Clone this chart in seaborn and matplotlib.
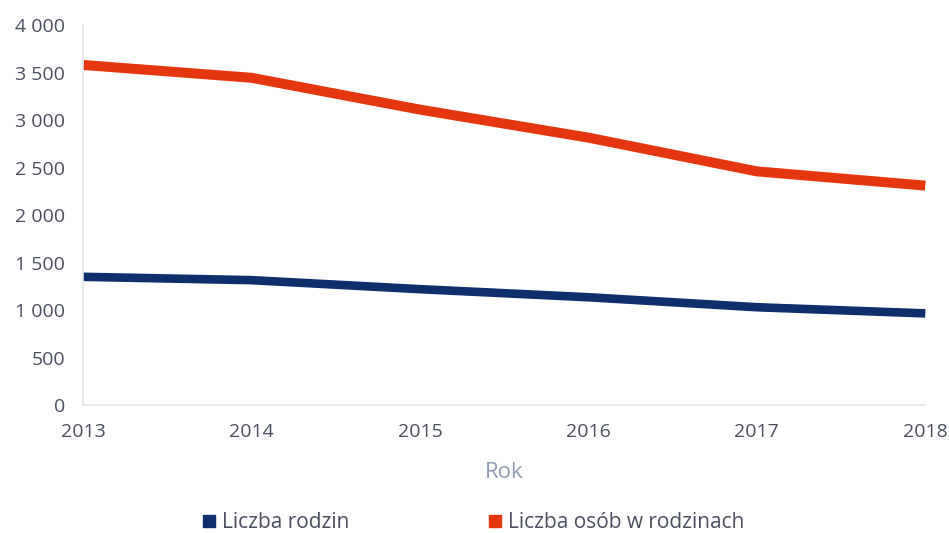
import matplotlib
matplotlib.use("Agg")
import matplotlib.pyplot as plt
import pandas as pd
import seaborn as sns
from matplotlib.lines import Line2D

years = [2013, 2014, 2015, 2016, 2017, 2018]
liczba_rodzin = [1350, 1315, 1220, 1135, 1030, 965]
liczba_osob = [3580, 3445, 3110, 2815, 2460, 2310]
series_names = ["Liczba rodzin", "Liczba osób w rodzinach"]
y_ticks = [0, 500, 1000, 1500, 2000, 2500, 3000, 3500, 4000]

COLORS = {"Liczba rodzin": "#0d2f6b", "Liczba osób w rodzinach": "#e5370f"}
TICK_COLOR = "#4a4f60"
AXIS_COLOR = "#e4e6ef"

df = pd.DataFrame({
    "Rok": years * 2,
    "value": liczba_rodzin + liczba_osob,
    "series": [series_names[0]] * len(years) + [series_names[1]] * len(years),
})

sns.set_style("white")
plt.rcParams["font.family"] = ["Open Sans", "DejaVu Sans"]

fig = plt.figure(figsize=(9.49, 5.33), dpi=100)
ax = fig.add_axes([0.0875, 0.24, 0.8875, 0.713])

sns.lineplot(
    data=df, x="Rok", y="value", hue="series", palette=COLORS,
    size="series", sizes={series_names[0]: 6.2, series_names[1]: 7.2},
    legend=False, ax=ax,
)
for line in ax.lines:
    line.set_clip_on(False)
    line.set_solid_capstyle("butt")

ax.set_xlim(2013, 2018)
ax.set_ylim(0, 4000)
ax.set_xticks(years)
ax.set_xticklabels([str(y) for y in years])
ax.set_yticks(y_ticks)
ax.set_yticklabels([f"{v:,}".replace(",", " ") for v in y_ticks])
ax.tick_params(axis="both", length=0, labelsize=14, colors=TICK_COLOR)
ax.tick_params(axis="x", pad=13)
ax.tick_params(axis="y", pad=13)

for side in ["top", "right"]:
    ax.spines[side].set_visible(False)
for side in ["left", "bottom"]:
    ax.spines[side].set_color(AXIS_COLOR)
    ax.spines[side].set_linewidth(1.2)

ax.set_ylabel("")
ax.set_xlabel("Rok", fontsize=16, color="#8f9cb4", labelpad=15)

handles = [
    Line2D([0], [0], marker="s", linestyle="none", markersize=8,
           markerfacecolor=COLORS[name], markeredgecolor=COLORS[name], label=name)
    for name in series_names
]
fig.legend(
    handles=handles, loc="lower center", bbox_to_anchor=(0.498, -0.035),
    ncol=2, frameon=False, fontsize=15, columnspacing=6.6,
    handlelength=0.8, handletextpad=0.2, labelcolor=TICK_COLOR,
)

fig.savefig("out.png", dpi=100, facecolor="white")
